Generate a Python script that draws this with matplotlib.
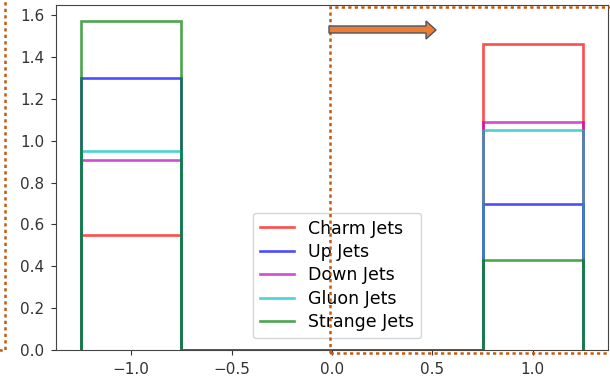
import numpy as np
import matplotlib
matplotlib.use("Agg")
import matplotlib.pyplot as plt
from matplotlib.patches import Polygon, Rectangle

# normalised jet-category histograms: two outcome bins (-1 / +1), empty gap between
edges = [-1.25, -0.75, 0.75, 1.25]
labels = ["Charm Jets", "Up Jets", "Down Jets", "Gluon Jets", "Strange Jets"]
colors = ["r", "b", "m", "c", "g"]
left_bin = [0.55, 1.30, 0.91, 0.95, 1.57]
right_bin = [1.46, 0.70, 1.09, 1.05, 0.43]

W, H = 610, 376
fig = plt.figure(figsize=(W / 100, H / 100), dpi=100)
ax = fig.add_axes([56 / W, 26 / H, (608 - 56) / W, (371 - 26) / H])

for lab, col, lo, hi in zip(labels, colors, left_bin, right_bin):
    ax.stairs([lo, 0.0, hi], edges, color=col, alpha=0.7, lw=1.9, label=lab)

ax.set_xlim(-1.375, 1.375)
ax.set_ylim(0, 1.6485)
ax.set_xticks([-1.0, -0.5, 0.0, 0.5, 1.0])
ax.set_yticks(np.arange(0, 1.61, 0.2))
ax.tick_params(labelsize=11, colors="#333333", pad=5)
for s in ax.spines.values():
    s.set_color("#444444")
ax.legend(loc="lower center", fontsize=12.5, labelspacing=0.31,
          bbox_to_anchor=(0.509, 12 / 345), borderaxespad=0)

# slide overlays drawn in pixel space (inches = px / 100, y measured from the bottom)
def px(x, y):
    return (x / 100, (H - y) / 100)

tr = fig.dpi_scale_trans
dot = dict(fill=False, ec="#c55a11", lw=1.8, ls=(0, (1.3, 1.3)), transform=tr)
x0, y0 = px(-20, -20)
x1, y1 = px(5, 350)
fig.patches.append(Rectangle((x0, y1), x1 - x0, y0 - y1, **dot))
x0, y0 = px(330, 7)
x1, y1 = px(640, 353)
fig.patches.append(Rectangle((x0, y1), x1 - x0, y0 - y1, **dot))

arrow = [px(329, 26), px(426, 26), px(426, 21), px(436, 30),
         px(426, 39), px(426, 33), px(329, 33)]
fig.patches.append(Polygon(arrow, closed=True, fc="#ed7d31", ec="#44546a",
                           lw=1.0, transform=tr))

fig.savefig("out.png", dpi=100)
